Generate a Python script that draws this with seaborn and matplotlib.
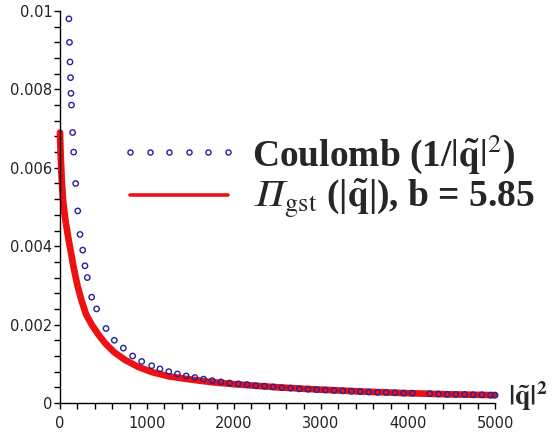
import numpy as np
import pandas as pd

import matplotlib
matplotlib.use("Agg")
import matplotlib.pyplot as plt
from matplotlib.lines import Line2D
from matplotlib.ticker import MultipleLocator, FuncFormatter
import seaborn as sns

# Coulomb points (1/|q|^2)
coulomb_q2 = [102, 109, 115, 121, 126, 132, 145, 157, 180, 204, 230, 261, 287, 314,
              364, 421, 529, 624, 728, 835, 939, 1054, 1149,
              1250, 1350, 1450, 1550, 1650, 1750, 1850, 1950, 2050, 2150, 2250, 2350,
              2450, 2550, 2650, 2750, 2850, 2950, 3050, 3150, 3250, 3350, 3450, 3550,
              3650, 3750, 3850, 3950, 4050, 4250, 4350, 4450, 4550, 4650, 4750, 4850,
              4950, 5000]
coulomb_val = [0.0098, 0.0092, 0.0087, 0.0083, 0.0079, 0.0076, 0.0069, 0.0064, 0.0056,
               0.0049, 0.0043, 0.0039, 0.0035, 0.0032, 0.0027, 0.0024, 0.0019, 0.0016,
               0.0014, 0.0012, 0.00106, 0.00095, 0.00087,
               0.00080, 0.00074, 0.00069, 0.00065, 0.00061, 0.00057, 0.00054, 0.00051,
               0.00049, 0.00047, 0.00044, 0.00043, 0.00041, 0.00039, 0.00038, 0.00036,
               0.00035, 0.00034, 0.00033, 0.00032, 0.00031, 0.00030, 0.00029, 0.00028,
               0.00027, 0.00027, 0.00026, 0.00025, 0.00025, 0.00024, 0.00023, 0.00022,
               0.00022, 0.00022, 0.00021, 0.00021, 0.00020, 0.00020]

# Pi_gst curve, b = 5.85
gst_q2 = [0, 5, 10, 20, 34, 60, 96, 125, 153, 200, 249, 300, 364, 440, 517, 620, 747,
          900, 1054, 1250, 1500, 1750, 2000, 2500, 3000, 3500, 4000, 4500, 5000]
gst_val = [0.0069, 0.0065, 0.0062, 0.0057, 0.0052, 0.0047, 0.0042, 0.00385, 0.0035,
           0.0030, 0.0026, 0.00226, 0.0020, 0.00175, 0.00153, 0.0013, 0.0011, 0.00092,
           0.00079, 0.00068, 0.00060, 0.00053, 0.00048, 0.00040, 0.00034, 0.00029,
           0.00025, 0.00022, 0.00020]

df_c = pd.DataFrame({"q2": coulomb_q2, "val": coulomb_val})
df_g = pd.DataFrame({"q2": gst_q2, "val": gst_val})

sns.set_style("white")
plt.rcParams["mathtext.fontset"] = "stix"
plt.rcParams["font.family"] = ["DejaVu Sans"]

red = "#ee1111"
blue = "#22229a"

fig = plt.figure(figsize=(5.52, 4.36), dpi=100)
ax = fig.add_axes([60 / 552, 33 / 436, 435 / 552, 392 / 436])

sns.lineplot(data=df_g, x="q2", y="val", ax=ax, color=red, lw=4.8,
             sort=False, estimator=None, clip_on=False, zorder=2)
sns.scatterplot(data=df_c, x="q2", y="val", ax=ax, marker="o", s=15,
                facecolor="none", edgecolor=blue, linewidth=1.0,
                clip_on=False, zorder=3)

ax.set_xlim(0, 5000)
ax.set_ylim(0, 0.01)
ax.set_xlabel("")
ax.set_ylabel("")
sns.despine(ax=ax)
for s in ["left", "bottom"]:
    ax.spines[s].set_color("black")
    ax.spines[s].set_linewidth(1.0)

ax.xaxis.set_major_locator(MultipleLocator(1000))
ax.xaxis.set_minor_locator(MultipleLocator(200))
ax.yaxis.set_major_locator(MultipleLocator(0.002))
ax.yaxis.set_minor_locator(MultipleLocator(0.0004))
ax.yaxis.set_major_formatter(FuncFormatter(lambda v, p: "%g" % round(v, 4)))
ax.xaxis.set_major_formatter(FuncFormatter(lambda v, p: "%g" % v))
ax.tick_params(which="both", direction="out", length=4.5, width=1.0,
               color="black", labelsize=10.5, labelcolor="#222222")
ax.tick_params(axis="y", which="both", left=True, pad=1)
ax.tick_params(axis="x", which="both", bottom=True, pad=5)

# x axis label at the right end
fig.text(508 / 552, 1 - 396 / 436, r"$\mathbf{|\tilde{q}|^2}$",
         fontsize=20, ha="left", va="center")

handles = [
    Line2D([], [], ls="none", marker="o", ms=3.7, mfc="none", mec=blue, mew=1.0),
    Line2D([], [], color=red, lw=2.6),
]
labels = [
    r"Coulomb (1/$|\mathbf{\tilde{q}}|^{2}$)",
    r"$𝛱_{\mathrm{gst}}$ (|$\mathbf{\tilde{q}}$|), b = 5.85",
]
fig.legend(handles, labels, loc="upper left",
           bbox_to_anchor=(119 / 552, 1 - 132 / 436),
           frameon=False, numpoints=6, handlelength=3.2, handletextpad=0.34,
           labelspacing=0.05, borderpad=0, borderaxespad=0,
           prop={"family": "Liberation Serif", "weight": "bold", "size": 27})

fig.savefig("out.png", dpi=100)
